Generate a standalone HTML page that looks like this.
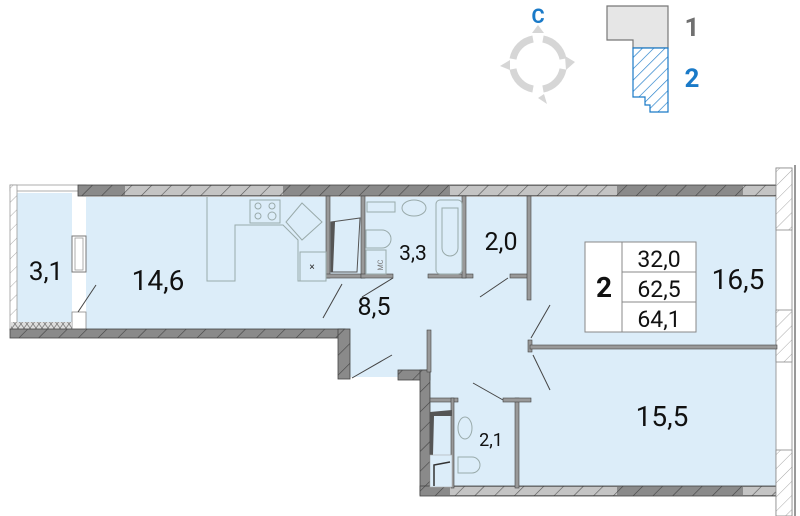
<!DOCTYPE html>
<html><head><meta charset="utf-8"><style>
html,body{margin:0;padding:0;background:#fff;width:800px;height:516px;overflow:hidden}
svg{display:block}
text{font-family:"Roboto","Liberation Sans",sans-serif}
</style></head><body>
<svg width="800" height="516" viewBox="0 0 800 516" xmlns="http://www.w3.org/2000/svg">
<defs>
<pattern id="h" width="14" height="14" patternUnits="userSpaceOnUse" patternTransform="rotate(45)">
<rect width="14" height="14" fill="#8a8a8a"/><line x1="0" y1="0" x2="0" y2="14" stroke="#444" stroke-width="1.2"/></pattern>
<pattern id="hl" width="10" height="10" patternUnits="userSpaceOnUse" patternTransform="rotate(45)">
<rect width="10" height="10" fill="#fff"/><line x1="0" y1="0" x2="0" y2="10" stroke="#aaa" stroke-width="1"/></pattern>
<pattern id="hm" width="14" height="14" patternUnits="userSpaceOnUse" patternTransform="rotate(45)">
<rect width="14" height="14" fill="#c4c4c4"/><line x1="0" y1="0" x2="0" y2="14" stroke="#555" stroke-width="1.2"/></pattern>
<pattern id="hb" width="8" height="8" patternUnits="userSpaceOnUse" patternTransform="rotate(45)">
<rect width="8" height="8" fill="#fff"/><line x1="0" y1="0" x2="0" y2="8" stroke="#1a7ac8" stroke-width="1.3"/></pattern>
<pattern id="x" width="6" height="8" patternUnits="userSpaceOnUse">
<rect width="6" height="8" fill="#ddd"/><path d="M0 0L6 8M6 0L0 8" stroke="#777" stroke-width="0.8"/></pattern>
</defs>

<!-- compass -->
<g fill="none" stroke="#d6d6d6" stroke-width="7">
<path d="M543 39 A25 25 0 0 1 563 59"/>
<path d="M563 69 A25 25 0 0 1 543 89"/>
<path d="M533 89 A25 25 0 0 1 513 69"/>
<path d="M513 59 A25 25 0 0 1 533 39"/>
</g>
<g fill="#d6d6d6">
<polygon points="532,33 538,25 544,33"/>
<polygon points="565,56 575,62 566,70"/>
<polygon points="544,94 547,104 538,98"/>
<polygon points="510,70 500,66 510,60"/>
</g>
<text x="538" y="23" font-size="20" font-weight="bold" fill="#1a7ac8" text-anchor="middle">C</text>

<!-- building key -->
<polygon points="607,6 668,6 668,48 633,48 633,40 607,40" fill="#e6e6e6" stroke="#777" stroke-width="1.2"/>
<polygon points="633,48 668,48 668,112 650,112 650,105 645,105 645,97 633,97" fill="url(#hb)" stroke="#1a7ac8" stroke-width="1.2"/>
<text x="692" y="36" font-size="26" font-weight="bold" fill="#707070" text-anchor="middle">1</text>
<text x="692" y="87" font-size="26" font-weight="bold" fill="#1a7ac8" text-anchor="middle">2</text>

<!-- blue floor -->
<g fill="#dcedf9">
<rect x="17" y="193" width="55" height="129"/>
<rect x="86" y="197" width="442" height="132"/>
<rect x="338" y="197" width="192" height="180"/>
<rect x="428" y="300" width="100" height="190"/>
<rect x="520" y="197" width="257" height="290"/>
</g>

<!-- balcony -->
<rect x="10" y="185" width="76" height="6" fill="#fff" stroke="#999" stroke-width="0.8"/>
<rect x="10" y="185" width="7" height="145" fill="url(#hl)" stroke="#999" stroke-width="0.8"/>
<rect x="72" y="193" width="14" height="119" fill="#fff"/>
<rect x="72" y="312" width="14" height="18" fill="#fff" stroke="#888" stroke-width="0.8"/>
<rect x="72" y="236" width="14" height="36" fill="#fff" stroke="#777" stroke-width="1"/>
<rect x="75" y="238" width="8" height="32" fill="none" stroke="#999" stroke-width="0.8"/>
<rect x="11" y="322" width="61" height="8" fill="url(#x)"/>
<line x1="78" y1="312" x2="96" y2="285" stroke="#444" stroke-width="1"/>

<!-- outer walls -->
<rect x="78" y="185" width="700" height="11" fill="url(#h)" stroke="#444" stroke-width="0.8"/>
<rect x="125" y="186" width="158" height="9" fill="url(#hm)"/>
<rect x="450" y="186" width="167" height="9" fill="url(#hm)"/>
<rect x="743" y="186" width="33" height="9" fill="url(#hm)"/>
<rect x="10" y="329" width="335" height="9" fill="url(#h)" stroke="#444" stroke-width="0.8"/>
<rect x="338" y="329" width="12" height="50" fill="url(#h)" stroke="#444" stroke-width="0.8"/>
<rect x="398" y="370" width="32" height="10" fill="url(#h)" stroke="#444" stroke-width="0.8"/>
<rect x="420" y="370" width="10" height="125" fill="url(#h)" stroke="#444" stroke-width="0.8"/>
<rect x="420" y="486" width="358" height="10" fill="url(#h)" stroke="#444" stroke-width="0.8"/>
<rect x="450" y="487" width="167" height="8" fill="url(#hm)"/>
<rect x="743" y="487" width="33" height="8" fill="url(#hm)"/>
<rect x="427" y="330" width="4" height="42" fill="#999" stroke="#444" stroke-width="0.6"/>
<line x1="352" y1="378" x2="392" y2="355" stroke="#444" stroke-width="1"/>

<!-- right facade -->
<rect x="776" y="168" width="16" height="348" fill="#fff" stroke="#888" stroke-width="0.8"/>
<rect x="776" y="168" width="16" height="62" fill="url(#hl)" stroke="#888" stroke-width="0.8"/>
<rect x="776" y="310" width="16" height="52" fill="url(#hl)" stroke="#888" stroke-width="0.8"/>
<rect x="776" y="450" width="16" height="66" fill="url(#hl)" stroke="#888" stroke-width="0.8"/>
<line x1="795" y1="165" x2="795" y2="516" stroke="#999" stroke-width="2"/>

<!-- internal walls -->
<g fill="#999" stroke="#444" stroke-width="0.6">
<rect x="326" y="196" width="4" height="82"/>
<rect x="326" y="274" width="36" height="4"/>
<rect x="361" y="196" width="4" height="82"/>
<rect x="361" y="274" width="32" height="4"/>
<rect x="428" y="274" width="45" height="4"/>
<rect x="462" y="196" width="4" height="82"/>
<rect x="510" y="274" width="20" height="4"/>
<rect x="527" y="196" width="4" height="104"/>
<rect x="528" y="340" width="4" height="12"/>
<rect x="530" y="345" width="247" height="4"/>
<rect x="515" y="398" width="4" height="90"/>
<rect x="503" y="398" width="28" height="4"/>
<rect x="430" y="398" width="28" height="4"/>
<rect x="451" y="398" width="3" height="90"/>
</g>
<g stroke="#444" stroke-width="1">
<line x1="323" y1="318" x2="342" y2="284"/>
<line x1="362" y1="297" x2="393" y2="278"/>
<line x1="480" y1="297" x2="508" y2="278"/>
<line x1="531" y1="338" x2="550" y2="305"/>
<line x1="533" y1="355" x2="550" y2="390"/>
<line x1="473" y1="383" x2="503" y2="400"/>
</g>

<!-- kitchen / fixtures -->
<g fill="none" stroke="#9aa" stroke-width="1">
<polyline points="207,197 207,281 235,281 235,225 283,225 298,240 298,281 326,281"/>
<rect x="250" y="200" width="30" height="23"/>
<circle cx="258" cy="206" r="3"/><circle cx="272" cy="206" r="3"/>
<circle cx="258" cy="216" r="3"/><circle cx="272" cy="216" r="4"/>
<polygon points="302,203 322,222 302,240 286,222"/>
<rect x="300" y="252" width="26" height="29"/>
<rect x="367" y="202" width="28" height="10"/>
<ellipse cx="414" cy="208" rx="12" ry="8"/>
<path d="M366 230 h16 a9 9 0 0 1 0 18 h-16 z"/>
<rect x="366" y="250" width="20" height="24"/>
<rect x="436" y="200" width="26" height="74" rx="4"/>
<path d="M442 208 v40 a8 8 0 0 0 16 0 v-40 z"/>
<ellipse cx="465" cy="428" rx="7" ry="11"/>
<path d="M458 457 h14 a8 8 0 0 1 0 16 h-14 z"/>
</g>
<text x="312" y="270" font-size="10" fill="#333" text-anchor="middle">×</text>
<text x="380" y="268" font-size="7" fill="#777" transform="rotate(-90 380 265)" text-anchor="middle">МС</text>
<polygon points="331,222 360,218 357,272 331,272" fill="#dcedf9" stroke="#555" stroke-width="1"/>
<polygon points="331,222 335,222 333,272 331,272" fill="#555"/>
<polygon points="430,412 452,410 452,416 434,416 433,455 430,455" fill="#555"/>
<rect x="430" y="455" width="22" height="32" fill="#dcedf9" stroke="#aaa" stroke-width="0.6"/>
<polyline points="434,486 434,465 450,462" fill="none" stroke="#333" stroke-width="1.5"/>

<!-- info table -->
<rect x="585" y="242" width="111" height="90" fill="#fff" stroke="#888" stroke-width="1"/>
<line x1="622" y1="242" x2="622" y2="332" stroke="#888"/>
<line x1="622" y1="272" x2="696" y2="272" stroke="#888"/>
<line x1="622" y1="302" x2="696" y2="302" stroke="#888"/>
<text x="604" y="297" font-size="28" font-weight="bold" fill="#111" text-anchor="middle">2</text>
<g font-size="23" fill="#111" text-anchor="middle">
<text x="659" y="267">32,0</text>
<text x="659" y="297">62,5</text>
<text x="659" y="327">64,1</text>
</g>

<!-- labels -->
<g fill="#111" text-anchor="middle">
<text x="46" y="280" font-size="26">3,1</text>
<text x="158" y="290" font-size="28">14,6</text>
<text x="413" y="260" font-size="21">3,3</text>
<text x="374" y="315" font-size="25">8,5</text>
<text x="501" y="250" font-size="25">2,0</text>
<text x="738" y="289" font-size="28">16,5</text>
<text x="662" y="426" font-size="28">15,5</text>
<text x="491" y="446" font-size="18">2,1</text>
</g>
</svg>
</body></html>
